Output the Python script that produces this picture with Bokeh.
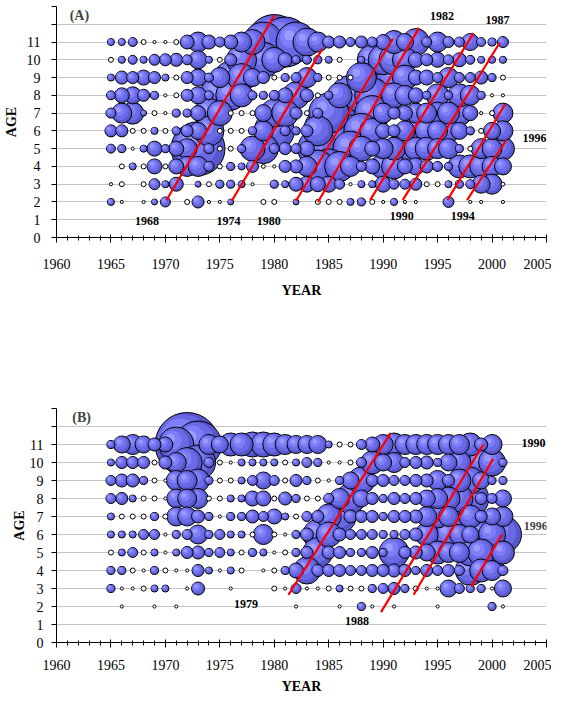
import numpy as np
from bokeh.plotting import figure
from bokeh.models import ColumnDataSource, FixedTicker, Range1d, Label, Spacer
from bokeh.layouts import column
from bokeh.embed import file_html
from bokeh.resources import INLINE

years = list(range(1965, 2002))
ages = list(range(11, 1, -1))
x_ticks = list(range(1960, 2006, 5))
y_ticks = list(range(0, 14))

# ---------------- Panel A (index per cell; negative = open circle) -----------
A11 = [10,10,16,-5,-2, -2,-5,39,80,39, 20,39,80,125,320, 605,500,320,157,80, 29,29,16,29,20, 45,106,58,146,20, 80,24,20,58,16, 13,24]
A10 = [-5,10,16,10,24, 29,34,20,65,10, -5,29,180,320,245, 125,39,13,16,13, 10,-5,0,10,180, 180,180,125,45,29, 45,20,39,16,10, 10,10]
A9  = [10,34,29,45,29, 10,-5,29,58,16, 80,218,157,65,29, -5,13,20,80,13, -5,-5,-5,180,320, 245,245,125,45,45, 20,80,20,20,34, 13,-5]
A8  = [16,45,58,29,13, -2,-5,29,58,16, 320,180,106,16,13, 20,45,146,34,-5, 13,125,320,245,245, 320,125,80,45,13, 106,13,106,80,13, -2,-2]
A7  = [20,80,97,7,-5, -2,13,13,45,180, 125,-5,-5,-5,58, 157,146,29,-5,20, 320,405,405,405,245, 80,29,45,80,80, 97,97,125,45,-2, -5,80]
A6  = [29,29,-5,-5,10, -5,13,29,58,180, -5,-5,-5,13,80, 320,20,13,29,180, 500,500,405,245,125, 45,29,80,146,106, 80,106,58,13,-5, 58,80]
A5  = [16,13,-2,10,45, 13,45,80,580,20, -5,-5,13,125,180, 20,29,20,45,320, 650,405,245,125,45, 80,106,146,106,106, 80,80,13,-5,80, 80,106]
A4  = [0,-5,10,-5,45, -5,45,80,80,20, -5,13,10,29,-3, -2,29,34,80,218, 245,180,80,20,45, 125,125,45,58,34, 20,13,106,106,106, 80,58]
A3  = [-2,-5,0,-5,24, 10,39,0,7,-5, 13,13,10,-2,0, 13,10,39,51,45, 51,20,-2,10,10, 51,20,20,29,-5, -5,10,13,16,65, 80,-3]
A2  = [10,-2,0,-2,7, 20,0,-5,29,-2, -2,7,0,0,-5, -5,0,7,0,-5, -5,-5,10,13,-5, -2,10,-2,-2,0, 0,24,0,-2,-2, 0,-2]

A_line_x0 = [1970.1, 1976.1, 1982.0, 1984.0, 1988.8, 1991.8, 1995.9, 1997.7]
A_line_y0 = [2.1, 2.07, 2.07, 1.98, 2.1, 2.1, 2.1, 2.1]
A_line_x1 = [1980.0, 1984.4, 1990.9, 1993.3, 1998.3, 2000.7, 2001.2, 2001.3]
A_line_y1 = [12.5, 10.6, 11.2, 11.8, 11.5, 10.96, 7.5, 5.46]
A_lab_text = ["1968", "1974", "1980", "1982", "1987", "1990", "1994", "1996"]
A_lab_x = [1968.3, 1975.8, 1979.5, 1995.4, 2000.5, 1991.7, 1997.3, 2003.9]
A_lab_y = [0.95, 0.95, 0.95, 12.49, 12.24, 1.22, 1.22, 5.6]

# ---------------- Panel B -----------------------------------------------------
B11 = [13,58,80,58,34, 45,245,820,442,80, 58,106,106,125,125, 106,80,65,65,65, 10,-5,-5,20,45, 80,106,80,80,80, 80,80,80,106,34, 80,0]
B10 = [10,29,29,29,-5, 34,80,180,245,20, -5,-2,10,10,10, 10,-5,10,20,13, -2,-2,-5,20,106, 58,80,20,29,34, 13,58,106,146,146, 146,13]
B9  = [20,34,34,13,-5, -2,80,80,106,13, -5,-5,10,20,58, 20,-5,29,13,-5, -2,13,58,146,29, 29,20,20,29,34, 80,29,106,146,58, 13,13]
B8  = [20,29,10,-5,-5, -2,72,72,80,-5, -5,10,10,45,45, -5,34,13,-5,-5, 20,80,180,58,29, 13,29,20,29,58, 80,106,146,275,29, 20,58]
B7  = [10,-5,-5,-5,13, -5,72,72,34,13, -2,13,13,34,20, 45,10,-5,20,29, 125,218,34,29,29, 13,29,29,34,80, 106,80,218,106,29, 58,80]
B6  = [10,10,10,20,20, -2,13,20,72,13, 20,10,10,-5,80, -5,-2,13,34,180, 125,34,20,20,20, 13,13,20,34,106, 146,146,80,58,146, 146,275]
B5  = [-5,10,20,-5,10, -2,10,29,34,13, 20,10,-5,13,10, -2,-5,13,29,180, 34,29,13,13,29, 13,180,29,34,58, 106,80,80,146,146, 218,106]
B4  = [13,13,-5,-2,13, -5,-2,-2,29,10, -2,10,-5,0,-2, -5,13,45,146,29, 29,29,20,20,29, 29,34,29,13,29, 20,29,20,180,106, 80,20]
B3  = [13,-2,-2,-5,10, 10,0,-2,34,0, 0,-2,0,0,0, -5,-2,20,-2,-2, -5,10,-5,-5,13, 20,29,13,-5,-2, -2,58,20,13,13, -2,58]
B2  = [0,-2,0,0,-2, 0,-2,0,0,0, 0,0,0,0,0, 0,0,-2,0,0, 0,-2,0,13,-2, 0,-2,0,0,0, -2,0,0,0,0, 13,-2]

B_line_x0 = [1981.3, 1989.8, 1992.8, 1998.1]
B_line_y0 = [2.65, 1.69, 2.65, 3.12]
B_line_x1 = [1990.7, 1999.2, 2000.1, 2000.9]
B_line_y1 = [11.65, 11.0, 10.2, 6.0]
B_lab_text = ["1979", "1988", "1990"]
B_lab_x = [1977.4, 1987.6, 2003.8]
B_lab_y = [2.14, 1.17, 11.1]

panel_a = dict(zip(ages, [A11, A10, A9, A8, A7, A6, A5, A4, A3, A2]))
panel_b = dict(zip(ages, [B11, B10, B9, B8, B7, B6, B5, B4, B3, B2]))

SERIF = "Liberation Serif"
# shading layers: (size fraction, offset toward upper-left as fraction of diameter, colour, outline alpha)
LAYERS = [(1.0, 0.0, "#5757cc", 1.0),
          (0.82, 0.08, "#6a6ae6", 0.0),
          (0.55, 0.18, "#7e7ef8", 0.0),
          (0.26, 0.24, "#9a9aff", 0.0)]


def bubble_source(data, px_x, px_y):
    cells = []
    for age in ages:
        for yr, v in zip(years, data[age]):
            if v == 0:
                continue
            cells.append((abs(v), yr, age, v))
    cells.sort(key=lambda c: -c[0])
    xs, ys, sz, fc, la = [], [], [], [], []
    for mag, yr, age, v in cells:
        d = float(np.sqrt(5.0 * mag))
        if v < 0:
            xs.append(yr); ys.append(age); sz.append(d); fc.append("white"); la.append(1.0)
        else:
            for frac, off, col, lal in LAYERS:
                o = off * d / np.sqrt(2)
                xs.append(yr - o / px_x); ys.append(age + o / px_y)
                sz.append(d * frac); fc.append(col); la.append(lal)
    return ColumnDataSource(dict(x=xs, y=ys, size=sz, fill=fc, la=la))


def make_fig(height, left, right, top, bottom, lab_standoff, axlab_standoff,
             ylab_standoff, yaxlab_standoff):
    p = figure(width=551, height=height, x_range=Range1d(1960, 2005), y_range=Range1d(0, 13),
               output_backend="svg", toolbar_location=None,
               min_border_left=left, min_border_right=right,
               min_border_top=top, min_border_bottom=bottom)
    p.outline_line_color = None
    p.xgrid.visible = False
    p.ygrid.ticker = FixedTicker(ticks=list(range(1, 14)))
    p.ygrid.grid_line_color = "#c4c4c4"
    p.ygrid.grid_line_width = 1.2
    p.xaxis.ticker = FixedTicker(ticks=x_ticks, minor_ticks=list(range(1960, 2006)))
    p.yaxis.ticker = FixedTicker(ticks=y_ticks)
    p.yaxis.major_label_overrides = {12: "", 13: ""}
    for ax in (p.xaxis[0], p.yaxis[0]):
        ax.axis_line_color = "black"
        ax.major_tick_line_color = "black"
        ax.major_label_text_font = SERIF
        ax.major_label_text_font_size = "14px"
        ax.major_label_text_color = "black"
        ax.axis_label_text_font = SERIF
        ax.axis_label_text_font_size = "14px"
        ax.axis_label_text_font_style = "bold"
        ax.axis_label_text_color = "black"
    p.xaxis.axis_label = "YEAR"
    p.yaxis.axis_label = "AGE"
    p.xaxis.major_tick_in = 3
    p.xaxis.major_tick_out = 5
    p.xaxis.minor_tick_in = 2
    p.xaxis.minor_tick_out = 3
    p.xaxis.minor_tick_line_color = "black"
    p.yaxis.major_tick_in = 0
    p.yaxis.major_tick_out = 5
    p.yaxis.minor_tick_line_color = None
    p.xaxis.major_label_standoff = lab_standoff
    p.xaxis.axis_label_standoff = axlab_standoff
    p.yaxis.major_label_standoff = ylab_standoff
    p.yaxis.axis_label_standoff = yaxlab_standoff
    return p


def add_labels(p, texts, xs, ys, size="12px"):
    for t, x, y in zip(texts, xs, ys):
        p.add_layout(Label(x=x, y=y, text=t, text_font=SERIF, text_font_size=size,
                           text_font_style="bold", text_align="center",
                           text_baseline="middle", text_color="black"))


# ---- Panel A figure ----
pa = make_fig(302, 51, 5, 6, 65, 16, 11, 11, 5)
pxA = (495.0 / 45.0, 231.0 / 13.0)
srcA = bubble_source(panel_a, *pxA)
pa.scatter("x", "y", size="size", source=srcA, marker="circle", fill_color="fill",
           line_color="black", line_alpha="la", line_width=1)
pa.segment(A_line_x0, A_line_y0, A_line_x1, A_line_y1, line_color="#ff0000", line_width=2.2)
add_labels(pa, A_lab_text, A_lab_x, A_lab_y)
pa.add_layout(Label(x=1962.1, y=12.5, text="(A)", text_font=SERIF, text_font_size="14px",
                    text_font_style="bold", text_align="center", text_baseline="middle"))

# ---- Panel B figure ----
pb = make_fig(304, 43, 3, 14, 56, 12, 6, 8, 0)
pxB = (505.0 / 45.0, 234.0 / 13.0)
srcB = bubble_source(panel_b, *pxB)
pb.scatter("x", "y", size="size", source=srcB, marker="circle", fill_color="fill",
           line_color="black", line_alpha="la", line_width=1)
pb.segment(B_line_x0, B_line_y0, B_line_x1, B_line_y1, line_color="#ff0000", line_width=2.2)
add_labels(pb, B_lab_text, B_lab_x, B_lab_y)
pb.add_layout(Label(x=2002.9, y=6.5, text="1996", text_font=SERIF, text_font_size="12px",
                    text_font_style="bold", text_align="left", text_baseline="middle"))
pb.add_layout(Label(x=1962.3, y=12.5, text="(B)", text_font=SERIF, text_font_size="14px",
                    text_font_style="bold", text_align="center", text_baseline="middle"))

layout = column(pa, Spacer(height=92, width=551), pb)
open("out.html", "w").write(file_html(layout, INLINE))
